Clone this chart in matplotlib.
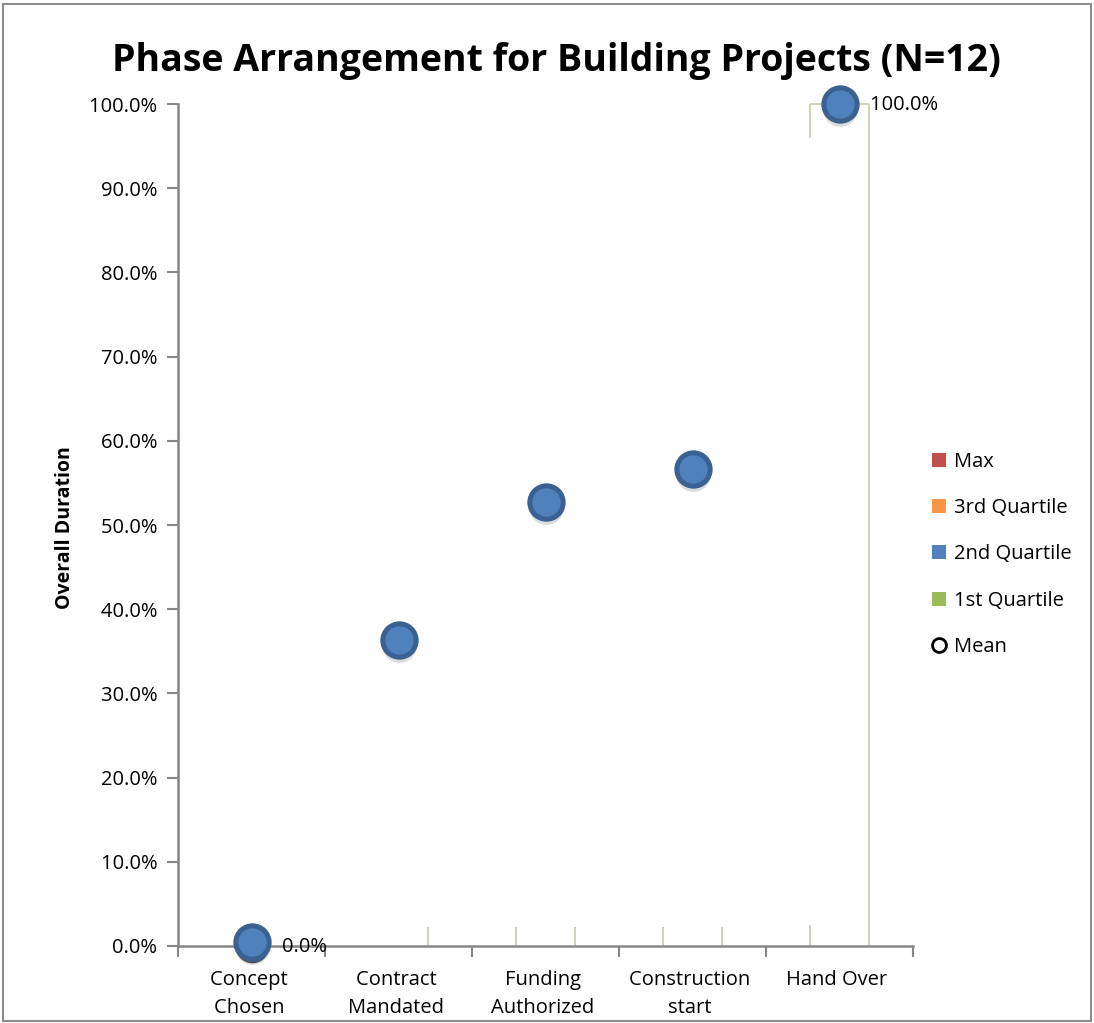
import numpy as np
import matplotlib.pyplot as plt
from matplotlib.patches import Patch, Rectangle
from matplotlib.lines import Line2D

plt.rcParams['font.family'] = ['Open Sans', 'DejaVu Sans']

categories = ['Concept \nChosen ', 'Contract \nMandated ', 'Funding \nAuthorized ',
              'Construction \nstart ', 'Hand Over ']
median = [0.5, 36.4, 52.7, 56.6, 100.0]
mean = [0.0, 36.4, 52.7, 56.6, 100.0]
show_label = [True, False, False, False, True]
yticks = [0, 10, 20, 30, 40, 50, 60, 70, 80, 90, 100]
# faint bar-edge lines (percent ranges) on the left / right side of each category
left_spans = [[], [], [(0, 2.2)], [(0, 2.2)], [(0, 2.5), (96, 100)]]
right_spans = [[], [(0, 2.2)], [(0, 2.2)], [(0, 2.2)], [(0, 100)]]
legend_names = ['Max ', '3rd Quartile ', '2nd Quartile ', '1st Quartile ']
legend_colors = ['#c0504d', '#f79646', '#4f81bd', '#9bbb59']

fig = plt.figure(figsize=(10.94, 10.23), dpi=100)
ax = fig.add_axes([0.1627, 0.0753, 0.672, 0.823])
x = np.arange(len(categories))
half_w = 0.2
pale = '#cbc8ad'

for i in range(len(categories)):
    for lo, hi in left_spans[i]:
        ax.vlines(x[i] - half_w, lo, hi, color=pale, lw=1.2, zorder=1)
    for lo, hi in right_spans[i]:
        ax.vlines(x[i] + half_w, lo, hi, color=pale, lw=1.2, zorder=1)
ax.hlines(median[-1], x[-1] - half_w, x[-1] + half_w, color=pale, lw=1.2, zorder=1, clip_on=False)

# mean (open circles), behind the median markers
ax.plot(x, mean, 'o', ms=22, mfc='white', mec='black', mew=2.2, ls='none', zorder=2, clip_on=False)
# soft shadow
ax.plot(x, np.array(median) - 0.6, 'o', ms=25, mfc='#b0b0b0', mec='none', alpha=0.45,
        ls='none', zorder=2.5, clip_on=False)
ax.plot(x, median, 'o', ms=24, mfc='#4f81bd', mec='#3a6192', mew=3.6, ls='none',
        zorder=3, clip_on=False)

for i in range(len(categories)):
    if show_label[i]:
        ax.annotate(f'{mean[i]:.1f}% ', (x[i], mean[i]), xytext=(22, -1), textcoords='offset points',
                    ha='left', va='center', fontsize=14.5, zorder=4, annotation_clip=False)

ax.set_xlim(-0.5, len(categories) - 0.5)
ax.set_ylim(0, 100)
ax.set_yticks(yticks)
ax.set_yticklabels([f'{t:.1f}% ' for t in yticks], fontsize=14.5)
ax.set_xticks(x)
ax.set_xticklabels(categories, fontsize=14.5, linespacing=1.55)
ax.set_xticks(np.arange(len(categories) + 1) - 0.5, minor=True)
ax.tick_params(axis='x', which='major', length=0, pad=17)
ax.tick_params(axis='x', which='minor', length=8, width=1.5, color='#868686')
ax.tick_params(axis='y', length=8, width=1.5, color='#868686', pad=3)
for s in ['top', 'right']:
    ax.spines[s].set_visible(False)
for s in ['left', 'bottom']:
    ax.spines[s].set_color('#868686')
    ax.spines[s].set_linewidth(1.8)
ax.set_ylabel('Overall Duration ', fontsize=14, fontweight='bold', labelpad=10)

fig.text(0.513, 0.94, 'Phase Arrangement for Building Projects (N=12) ', ha='center', va='center',
         fontsize=27, fontweight='bold')

handles = [Patch(facecolor=c, edgecolor='none') for c in legend_colors]
handles.append(Line2D([], [], marker='o', ls='none', mfc='white', mec='black', mew=2, ms=10))
fig.legend(handles, legend_names + ['Mean '], loc='center left', bbox_to_anchor=(0.835, 0.458),
           frameon=False, fontsize=14.5, labelspacing=1.3, handlelength=0.7, handleheight=0.7,
           handletextpad=0.4)

fig.add_artist(Rectangle((0.003, 0.002), 0.994, 0.994, transform=fig.transFigure, fill=False,
                         edgecolor='#8c8c8c', lw=1.5))
fig.savefig('out.png')
